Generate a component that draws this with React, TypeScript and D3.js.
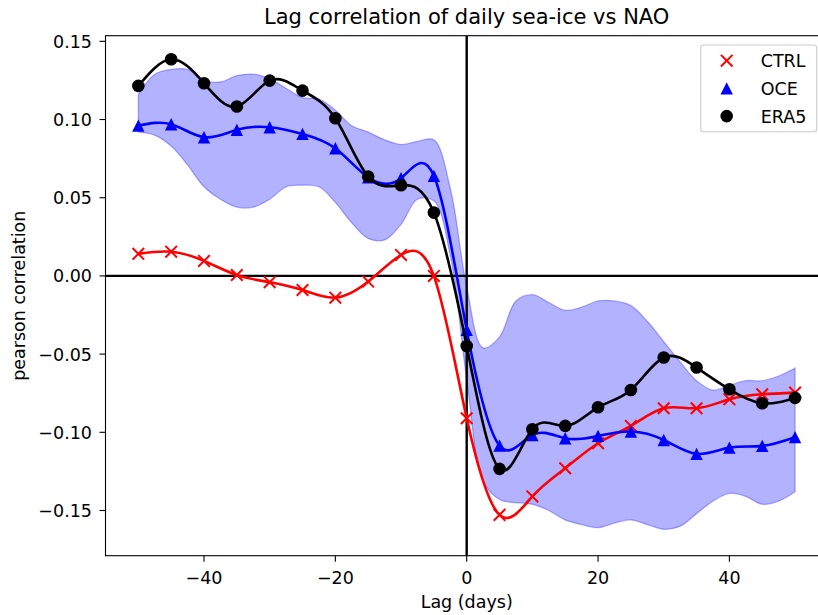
import React from "react";
import * as d3 from "d3";

const LAGS = [-50, -45, -40, -35, -30, -25, -20, -15, -10, -5, 0, 5, 10, 15, 20, 25, 30, 35, 40, 45, 50];
const CTRL = [0.0141, 0.0155, 0.0096, 0.0006, -0.004, -0.009, -0.0139, -0.0036, 0.0134, 0.0, -0.091, -0.1528, -0.141, -0.123, -0.107, -0.0959, -0.0846, -0.0846, -0.0789, -0.0757, -0.0746];
const OCE = [0.0961, 0.097, 0.0887, 0.0934, 0.0951, 0.0908, 0.0816, 0.063, 0.0625, 0.064, -0.0345, -0.1085, -0.1017, -0.1038, -0.1023, -0.0995, -0.1049, -0.1138, -0.1098, -0.1087, -0.1031];
const ERA5 = [0.1215, 0.1385, 0.1232, 0.1083, 0.1249, 0.1185, 0.1008, 0.0635, 0.058, 0.0405, -0.0448, -0.1234, -0.098, -0.0959, -0.084, -0.0729, -0.0522, -0.0586, -0.0725, -0.0814, -0.078];

const BAND_LAGS = [-50, -47.5, -45, -42.5, -40, -37.5, -35, -32.5, -30, -27.5, -25, -22.5, -20, -17.5, -15, -12.5, -10, -7.5, -5, -2.5, 0, 2.5, 5, 7.5, 10, 12.5, 15, 17.5, 20, 22.5, 25, 27.5, 30, 32.5, 35, 37.5, 40, 42.5, 45, 47.5, 50];
const OCE_UPPER = [0.116, 0.129, 0.132, 0.132, 0.125, 0.124, 0.128, 0.129, 0.126, 0.12, 0.114, 0.113, 0.106, 0.096, 0.092, 0.087, 0.084, 0.086, 0.087, 0.056, -0.007, -0.046, -0.039, -0.016, -0.012, -0.017, -0.022, -0.02, -0.016, -0.016, -0.019, -0.029, -0.042, -0.055, -0.067, -0.073, -0.07, -0.067, -0.067, -0.064, -0.059];
const OCE_LOWER = [0.092, 0.09, 0.083, 0.071, 0.057, 0.049, 0.044, 0.044, 0.049, 0.057, 0.058, 0.057, 0.047, 0.034, 0.024, 0.023, 0.033, 0.049, 0.048, 0.013, -0.066, -0.131, -0.143, -0.145, -0.146, -0.15, -0.156, -0.159, -0.161, -0.158, -0.156, -0.159, -0.162, -0.16, -0.152, -0.144, -0.139, -0.141, -0.146, -0.144, -0.138];

const X_TICKS = [-40, -20, 0, 20, 40];
const Y_TICKS = [-0.15, -0.1, -0.05, 0, 0.05, 0.1, 0.15];

const TITLE = "Lag correlation of daily sea-ice vs NAO";
const X_LABEL = "Lag (days)";
const Y_LABEL = "pearson correlation";

const W = 818;
const H = 615;
const FONT = "DejaVu Sans, sans-serif";
const FS = 17.5;

const x = d3.scaleLinear().domain([-55, 55]).range([105.5, 827.9]);
const y = d3.scaleLinear().domain([-0.1789, 0.1536]).range([555.7, 35.7]);

const fmtY = (v: number) => {
  const s = Math.abs(v).toFixed(2);
  return (v < -1e-9 ? "\u2212" : "") + s;
};
const fmtX = (v: number) => (v < 0 ? "\u2212" + Math.abs(v) : String(v));

function Marker({ kind, cx, cy, color }: { kind: string; cx: number; cy: number; color: string }) {
  if (kind === "x") {
    const s = 5.8;
    return (
      <path
        d={`M${cx - s},${cy - s}L${cx + s},${cy + s}M${cx - s},${cy + s}L${cx + s},${cy - s}`}
        stroke={color}
        strokeWidth={2}
        fill="none"
      />
    );
  }
  if (kind === "^") {
    const s = 6.2;
    return <path d={`M${cx},${cy - s}L${cx + s},${cy + s}L${cx - s},${cy + s}Z`} fill={color} />;
  }
  return <circle cx={cx} cy={cy} r={6.3} fill={color} />;
}

export default function App() {
  const lineGen = d3
    .line<[number, number]>()
    .x((d) => x(d[0]))
    .y((d) => y(d[1]))
    .curve(d3.curveNatural);

  const area = d3
    .area<number>()
    .x((_, i) => x(BAND_LAGS[i]))
    .y0((_, i) => y(OCE_LOWER[i]))
    .y1((_, i) => y(OCE_UPPER[i]))
    .curve(d3.curveCatmullRom);

  const series = [
    { name: "CTRL", vals: CTRL, color: "#ff0000", kind: "x" },
    { name: "OCE", vals: OCE, color: "#0000ff", kind: "^" },
    { name: "ERA5", vals: ERA5, color: "#000000", kind: "o" },
  ];

  const plotL = x(-55);
  const plotT = y(0.1536);
  const plotB = y(-0.1789);
  const plotR = x(55);
  const cx = (plotL + plotR) / 2;
  const cy = (plotT + plotB) / 2;

  return (
    <svg
      width={W}
      height={H}
      style={{ position: "absolute", left: 0, top: 0, background: "#fff" }}
      fontFamily={FONT}
    >
      <rect x={0} y={0} width={W} height={H} fill="#fff" />
      <defs>
        <clipPath id="plotclip">
          <rect x={plotL} y={plotT} width={plotR - plotL} height={plotB - plotT} />
        </clipPath>
      </defs>
      <g clipPath="url(#plotclip)">
        <path
          d={area(OCE_UPPER) || ""}
          fill="#0000ff"
          fillOpacity={0.3}
          stroke="#0000ff"
          strokeOpacity={0.3}
          strokeWidth={1.3}
        />
        <line x1={plotL} x2={plotR} y1={y(0)} y2={y(0)} stroke="#000" strokeWidth={2.4} />
        <line x1={x(0)} x2={x(0)} y1={plotT} y2={plotB} stroke="#000" strokeWidth={2.4} />
        {series.map((s) => (
          <g key={s.name}>
            <path
              d={lineGen(LAGS.map((l, i) => [l, s.vals[i]] as [number, number])) || ""}
              fill="none"
              stroke={s.color}
              strokeWidth={2.6}
            />
            {LAGS.map((l, i) => (
              <Marker key={i} kind={s.kind} cx={x(l)} cy={y(s.vals[i])} color={s.color} />
            ))}
          </g>
        ))}
      </g>
      {/* spines */}
      <rect x={plotL} y={plotT} width={plotR - plotL} height={plotB - plotT} fill="none" stroke="#000" strokeWidth={1.1} />
      {/* x ticks */}
      {X_TICKS.map((t) => (
        <g key={t}>
          <line x1={x(t)} x2={x(t)} y1={plotB} y2={plotB + 6} stroke="#000" strokeWidth={1.1} />
          <text x={x(t)} y={583.5} textAnchor="middle" fontSize={FS} fill="#000">
            {fmtX(t)}
          </text>
        </g>
      ))}
      {Y_TICKS.map((t) => (
        <g key={t}>
          <line x1={plotL - 6} x2={plotL} y1={y(t)} y2={y(t)} stroke="#000" strokeWidth={1.1} />
          <text x={plotL - 13.5} y={y(t) + 6.4} textAnchor="end" fontSize={FS} fill="#000">
            {fmtY(t)}
          </text>
        </g>
      ))}
      <text x={cx} y={24.3} textAnchor="middle" fontSize={21} fill="#000">
        {TITLE}
      </text>
      <text x={cx} y={608} textAnchor="middle" fontSize={FS} fill="#000">
        {X_LABEL}
      </text>
      <text
        transform={`translate(24.5,${cy}) rotate(-90)`}
        textAnchor="middle"
        fontSize={FS}
        fill="#000"
      >
        {Y_LABEL}
      </text>
      {/* legend */}
      <g>
        <rect x={700.7} y={45} width={116} height={86.7} rx={3} fill="#fff" fillOpacity={0.8} stroke="#cccccc" strokeWidth={1.1} />
        {series.map((s, i) => {
          const ly = 60.7 + i * 27.7;
          return (
            <g key={s.name}>
              <Marker kind={s.kind} cx={726.7} cy={ly} color={s.color} />
              <text x={760.7} y={ly + 6.4} fontSize={FS} fill="#000">
                {s.name}
              </text>
            </g>
          );
        })}
      </g>
    </svg>
  );
}
